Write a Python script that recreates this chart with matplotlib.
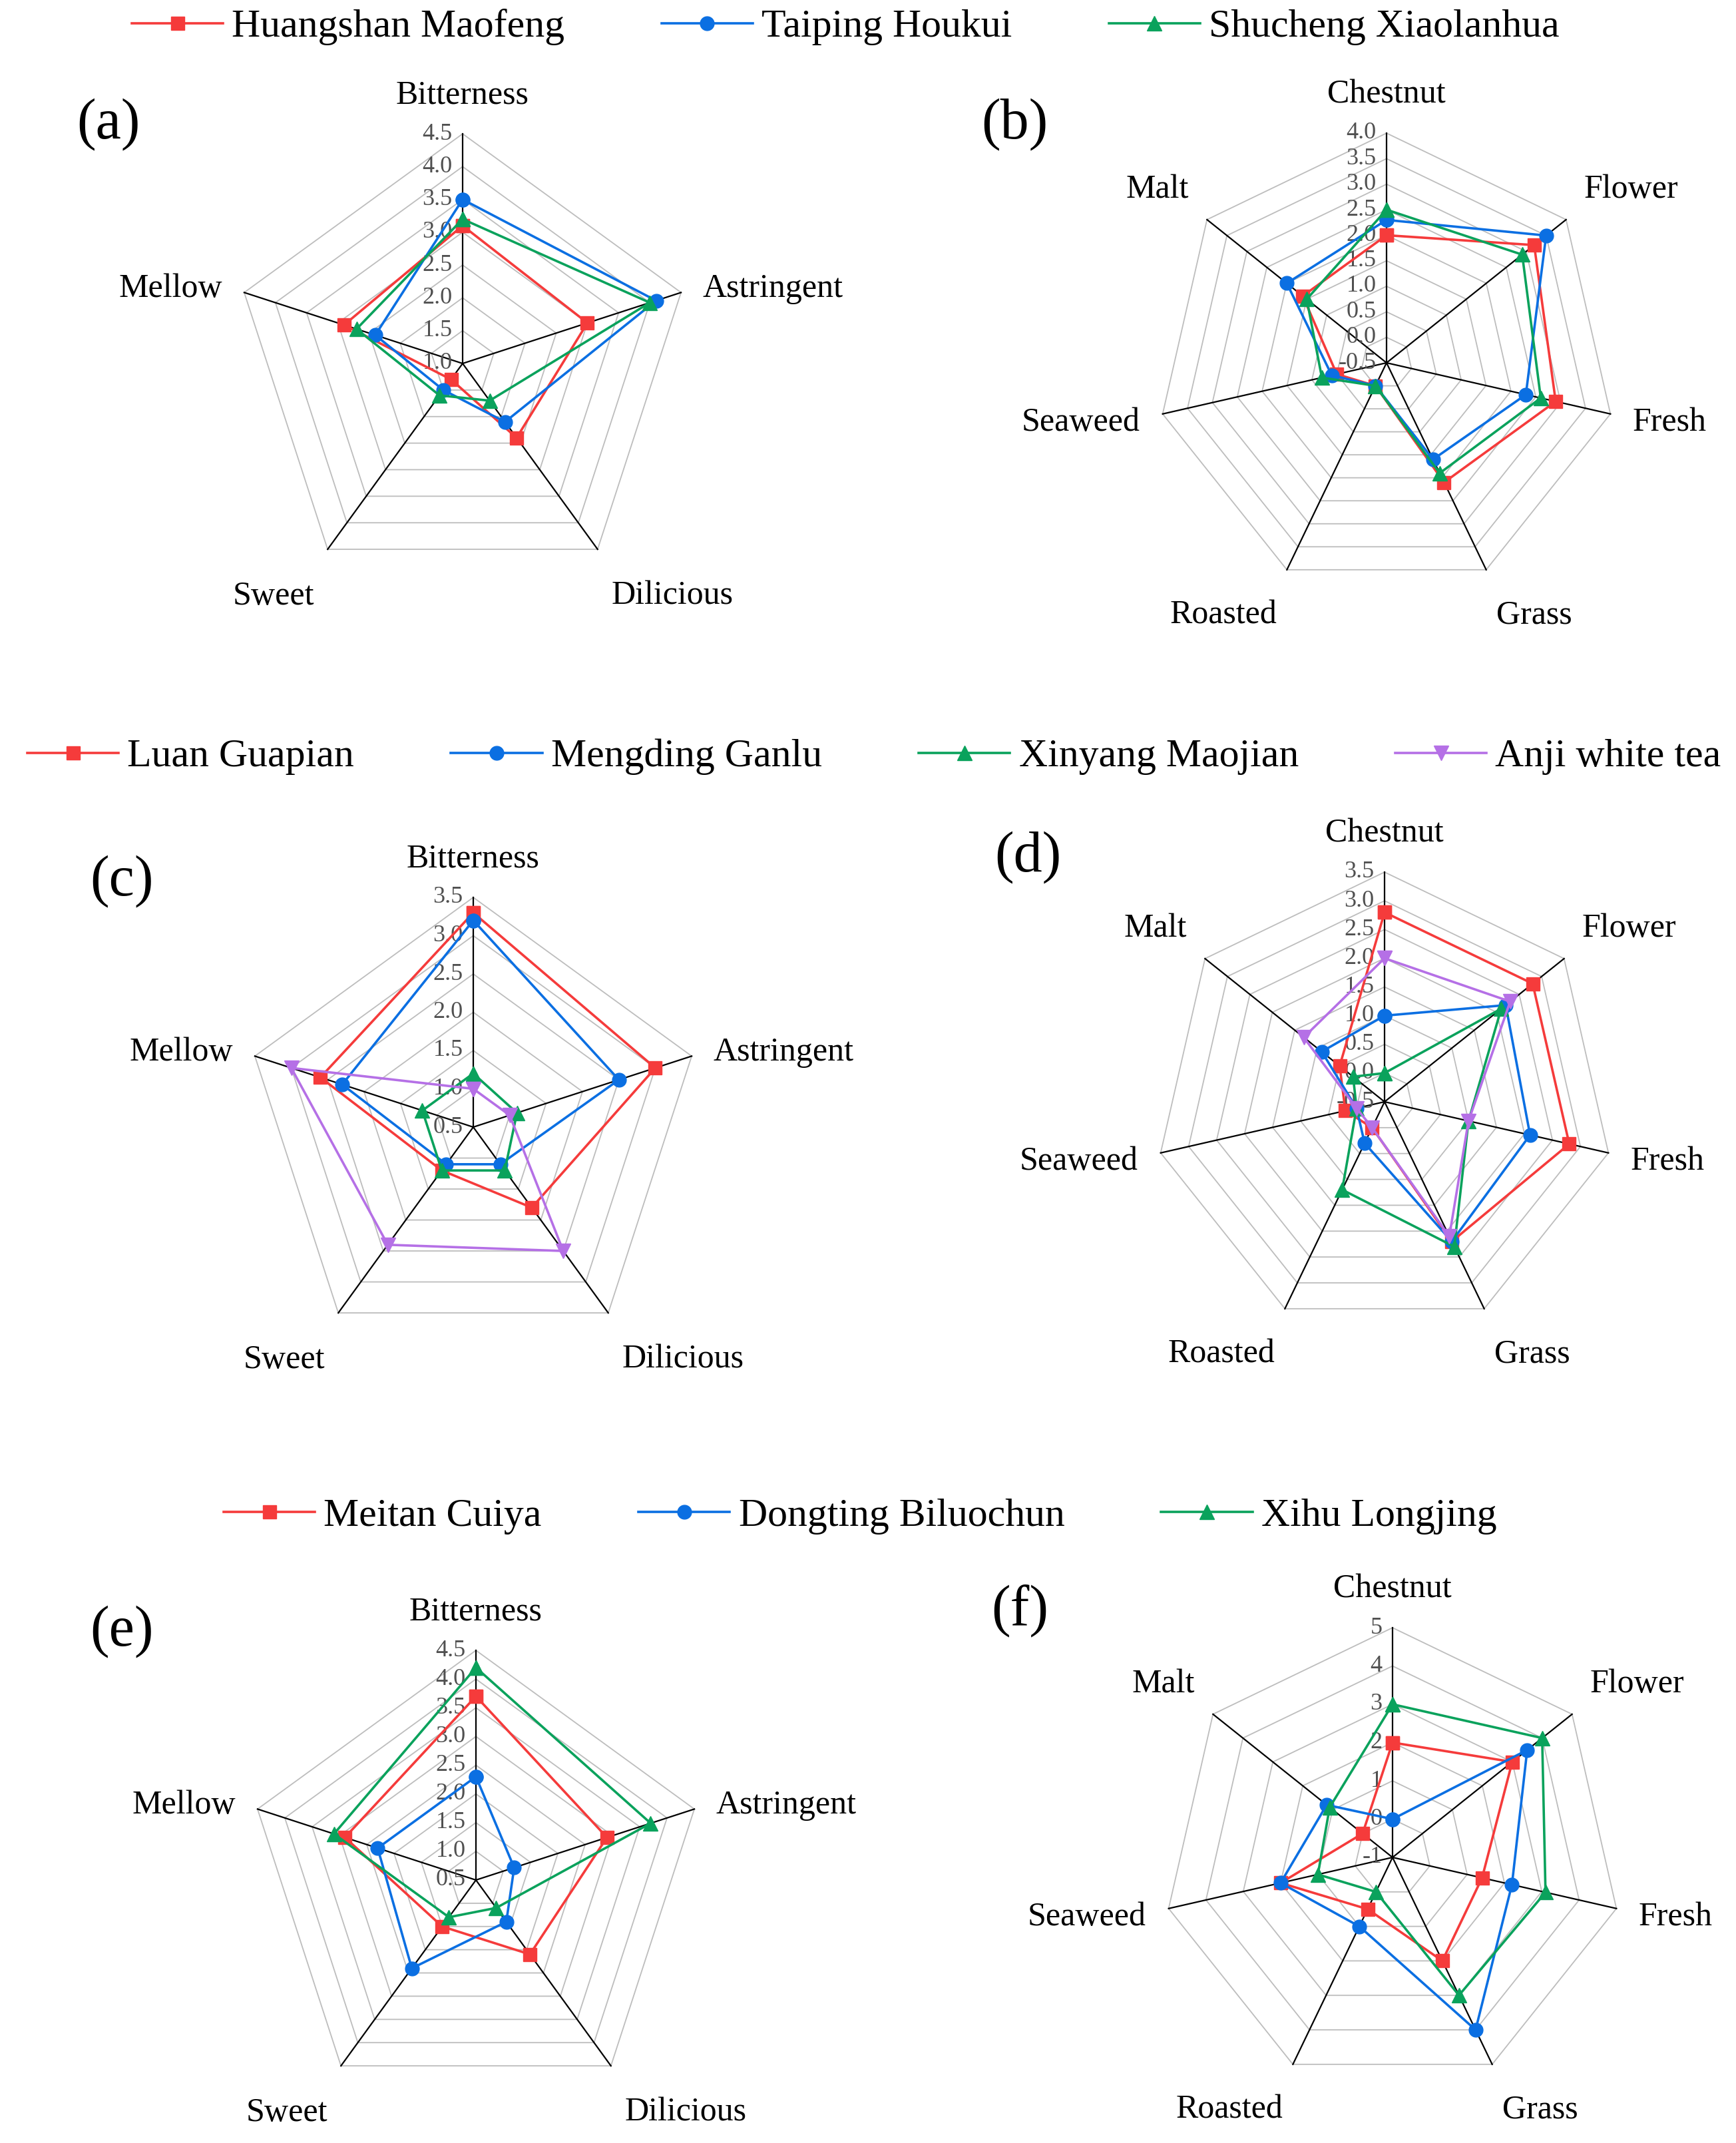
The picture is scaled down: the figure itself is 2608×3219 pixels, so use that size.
import numpy as np
import matplotlib
matplotlib.use('Agg')
import matplotlib.pyplot as plt
from matplotlib.transforms import offset_copy

plt.rcParams['font.family'] = 'serif'
plt.rcParams['font.serif'] = ['Liberation Serif', 'Times New Roman', 'DejaVu Serif']

# ---------------- data ----------------
taste_cats = ['Bitterness', 'Astringent', 'Dilicious', 'Sweet', 'Mellow']
aroma_cats = ['Chestnut', 'Flower', 'Fresh', 'Grass', 'Roasted', 'Seaweed', 'Malt']

names_1 = ['Huangshan Maofeng', 'Taiping Houkui', 'Shucheng Xiaolanhua']
names_2 = ['Luan Guapian', 'Mengding Ganlu', 'Xinyang Maojian', 'Anji white tea']
names_3 = ['Meitan Cuiya', 'Dongting Biluochun', 'Xihu Longjing']

# (a) taste
a_huangshan = [3.1, 3.0, 2.4, 1.3, 2.9]
a_taiping = [3.5, 4.1, 2.1, 1.5, 2.4]
a_shucheng = [3.2, 4.0, 1.7, 1.6, 2.7]
# (b) aroma
b_huangshan = [2.0, 3.2, 2.9, 2.1, 0.0, 0.5, 1.6]
b_taiping = [2.3, 3.5, 2.3, 1.6, 0.0, 0.6, 2.0]
b_shucheng = [2.5, 2.9, 2.6, 1.9, 0.0, 0.8, 1.5]
# (c) taste
c_luan = [3.3, 3.0, 1.8, 1.2, 2.6]
c_mengding = [3.2, 2.5, 1.1, 1.1, 2.3]
c_xinyang = [1.2, 1.1, 1.2, 1.2, 1.2]
c_anji = [1.0, 1.0, 2.5, 2.4, 3.0]
# (d) aroma
d_luan = [2.8, 2.8, 2.8, 2.2, 0.0, 0.2, 0.5]
d_mengding = [1.0, 2.2, 2.1, 2.2, 0.3, 0.0, 0.9]
d_xinyang = [0.0, 2.1, 1.0, 2.3, 1.2, 0.0, 0.2]
d_anji = [2.0, 2.3, 1.0, 2.1, 0.0, 0.0, 1.3]
# (e) taste
e_meitan = [3.7, 2.9, 2.1, 1.5, 2.9]
e_dongting = [2.3, 1.2, 1.4, 2.4, 2.3]
e_xihu = [4.2, 3.7, 1.1, 1.3, 3.1]
# (f) aroma
f_meitan = [2.0, 3.0, 1.4, 2.0, 0.5, 2.0, 0.0]
f_dongting = [0.0, 3.5, 2.2, 4.0, 1.0, 2.0, 1.2]
f_xihu = [3.0, 4.0, 3.1, 3.0, 0.0, 1.0, 1.1]

ticks_a = [1.0, 1.5, 2.0, 2.5, 3.0, 3.5, 4.0, 4.5]
ticks_b = [-0.5, 0.0, 0.5, 1.0, 1.5, 2.0, 2.5, 3.0, 3.5, 4.0]
ticks_c = [0.5, 1.0, 1.5, 2.0, 2.5, 3.0, 3.5]
ticks_d = [-0.5, 0.0, 0.5, 1.0, 1.5, 2.0, 2.5, 3.0, 3.5]
ticks_e = [0.5, 1.0, 1.5, 2.0, 2.5, 3.0, 3.5, 4.0, 4.5]
ticks_f = [-1, 0, 1, 2, 3, 4, 5]

# ---------------- style ----------------
COLORS = ['#f53b3b', '#0b6fe2', '#0aa25c', '#b570e6']
MARKERS = ['s', 'o', '^', 'v']
MSIZES = [14, 15, 16, 16]

W, H = 2608, 3219
fig = plt.figure(figsize=(W / 100, H / 100), dpi=100)


def radar(cx, cy, R, cats, series, names, ticks, fmt):
    ax = fig.add_axes([(cx - R) / W, 1 - (cy + R) / H, 2 * R / W, 2 * R / H],
                      projection='polar')
    rmin, rmax = ticks[0], ticks[-1]
    ax.set_theta_zero_location('N')
    ax.set_theta_direction(-1)
    ax.set_ylim(rmin, rmax)
    ax.grid(False)
    ax.set_xticks([])
    ax.set_yticks([])
    ax.spines['polar'].set_visible(False)
    ax.patch.set_alpha(0)
    n = len(cats)
    th = np.linspace(0, 2 * np.pi, n, endpoint=False)
    thc = np.append(th, th[0])
    for v in ticks[1:]:
        ax.plot(thc, [v] * (n + 1), color='#bdbdbd', lw=1.3, zorder=1, clip_on=False)
    for t in th:
        ax.plot([t, t], [rmin, rmax], color='black', lw=1.6, zorder=2, clip_on=False)
    tr = offset_copy(ax.transData, fig=fig, x=-11, y=0, units='points')
    for v in ticks:
        ax.text(0, v, fmt.format(v), transform=tr, ha='right', va='center',
                fontsize=26, color='#505050', zorder=3)
    handles = []
    for i, (vals, name) in enumerate(zip(series, names)):
        h, = ax.plot(thc, list(vals) + [vals[0]], color=COLORS[i], marker=MARKERS[i],
                     ms=MSIZES[i], lw=2.6, zorder=5 + i, label=name, clip_on=False)
        handles.append(h)
    rl = rmin + 1.1 * (rmax - rmin)
    drop = 14 if n == 5 else 10
    tr_low = offset_copy(ax.transData, fig=fig, x=0, y=-drop, units='points')
    for t, cat in zip(th, cats):
        s, c = np.sin(t), np.cos(t)
        ha = 'left' if s > 0.1 else ('right' if s < -0.1 else 'center')
        if c > 0.5:
            ax.text(t, rl, cat, ha=ha, va='bottom', fontsize=36, zorder=4)
        elif c < -0.5:
            ax.text(t, rl, cat, ha=ha, va='top', fontsize=36, zorder=4, transform=tr_low)
        else:
            ax.text(t, rl, cat, ha=ha, va='center_baseline', fontsize=36, zorder=4)
    return handles


R = 345
h1 = radar(695, 546, R, taste_cats, [a_huangshan, a_taiping, a_shucheng], names_1, ticks_a, '{:.1f}')
radar(2083, 545, R, aroma_cats, [b_huangshan, b_taiping, b_shucheng], names_1, ticks_b, '{:.1f}')
h2 = radar(711, 1693, R, taste_cats, [c_luan, c_mengding, c_xinyang, c_anji], names_2, ticks_c, '{:.1f}')
radar(2080, 1655, R, aroma_cats, [d_luan, d_mengding, d_xinyang, d_anji], names_2, ticks_d, '{:.1f}')
h3 = radar(715, 2824, R, taste_cats, [e_meitan, e_dongting, e_xihu], names_3, ticks_e, '{:.1f}')
radar(2092, 2790, R, aroma_cats, [f_meitan, f_dongting, f_xihu], names_3, ticks_f, '{:d}')

for hs, x0, y0 in [(h1, 198, 41), (h2, 41, 1137), (h3, 336, 2278)]:
    fig.legend(handles=hs, labels=[h.get_label() for h in hs], loc='center left',
               bbox_to_anchor=(x0 / W, 1 - y0 / H), ncol=len(hs), frameon=False,
               fontsize=43, handlelength=2.3, handletextpad=0.22, columnspacing=2.43,
               borderpad=0, borderaxespad=0)

for lab, x, y in [('(a)', 163, 187), ('(b)', 1524, 187), ('(c)', 183, 1324),
                  ('(d)', 1544, 1288), ('(e)', 183, 2451), ('(f)', 1532, 2420)]:
    fig.text(x / W, 1 - y / H, lab, fontsize=62, ha='center', va='center')

fig.savefig('out.png', dpi=100)
